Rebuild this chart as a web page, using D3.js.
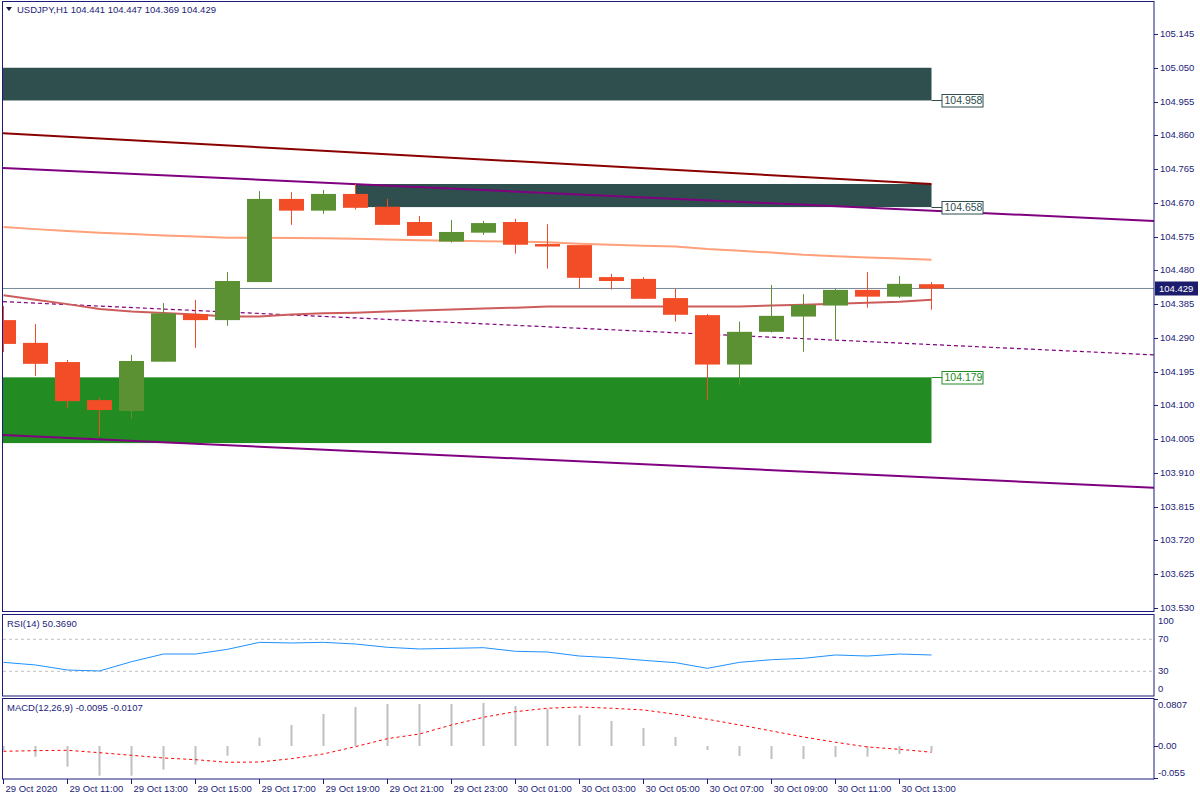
<!DOCTYPE html>
<html><head><meta charset="utf-8">
<script src="https://cdn.jsdelivr.net/npm/d3@7"></script>
<style>
body{margin:0;background:#fff}
svg{display:block}
text{font-family:"Liberation Sans",Arial,sans-serif;font-size:9.5px;fill:#1c1c78}
</style>
</head><body>
<svg id="c" width="1200" height="800"></svg>
<script>
// ---------- DATA ----------
const symbolTitle = "USDJPY,H1";
const timeLabels = ["29 Oct 2020","29 Oct 11:00","29 Oct 13:00","29 Oct 15:00","29 Oct 17:00","29 Oct 19:00","29 Oct 21:00","29 Oct 23:00","30 Oct 01:00","30 Oct 03:00","30 Oct 05:00","30 Oct 07:00","30 Oct 09:00","30 Oct 11:00","30 Oct 13:00"];
const opens  = [104.340,104.276,104.222,104.115,104.084,104.223,104.357,104.340,104.447,104.681,104.648,104.695,104.659,104.616,104.561,104.586,104.616,104.554,104.551,104.461,104.456,104.402,104.354,104.215,104.307,104.350,104.381,104.425,104.406,104.441];
const highs  = [104.380,104.329,104.228,104.121,104.242,104.388,104.397,104.475,104.703,104.700,104.706,104.723,104.681,104.633,104.622,104.619,104.625,104.610,104.551,104.470,104.461,104.428,104.357,104.336,104.439,104.413,104.428,104.475,104.464,104.447];
const lows   = [104.250,104.183,104.093,104.014,104.062,104.223,104.262,104.324,104.447,104.608,104.639,104.651,104.608,104.577,104.558,104.580,104.527,104.485,104.430,104.426,104.400,104.336,104.116,104.158,104.305,104.251,104.285,104.375,104.402,104.369];
const closes = [104.273,104.217,104.112,104.087,104.225,104.359,104.340,104.450,104.681,104.648,104.695,104.656,104.608,104.577,104.588,104.613,104.552,104.547,104.459,104.450,104.400,104.355,104.215,104.307,104.352,104.383,104.425,104.406,104.442,104.429];
const maSalmon = [104.602,104.596,104.591,104.586,104.582,104.578,104.575,104.572,104.572,104.571,104.570,104.569,104.567,104.565,104.563,104.562,104.561,104.559,104.555,104.552,104.549,104.547,104.540,104.535,104.530,104.524,104.520,104.516,104.513,104.510];
const maRed = [104.410,104.397,104.385,104.371,104.364,104.360,104.356,104.350,104.350,104.356,104.359,104.361,104.364,104.367,104.370,104.373,104.375,104.378,104.378,104.378,104.378,104.378,104.378,104.378,104.381,104.383,104.386,104.389,104.392,104.397];
const maroonLine = [104.866,104.723];      // at bar 0 and last bar
const upperChannel = [104.768,104.619];    // at bar 0 and bar 36 (right edge)
const lowerChannel = [104.017,103.868];
const dashedTrend = [104.392,104.242];
const zoneLows  = [104.958,104.658,103.994];
const zoneHighs = [105.050,104.723,104.179];
const zoneStarts = [0,11,0];
const zoneLabels = ["104.958","104.658","104.179"];
const priceTicks = [103.530,103.625,103.720,103.815,103.910,104.005,104.100,104.195,104.290,104.385,104.480,104.575,104.670,104.765,104.860,104.955,105.050,105.145];
const lastPrice = 104.429;
const rsi = [41.2,37.9,31.6,30.4,42.0,51.6,51.6,57.5,66.2,65.4,66.2,64.1,60.0,57.9,58.7,59.5,55.0,54.1,49.1,47.0,43.7,40.8,33.7,41.2,44.5,46.2,50.4,49.1,51.6,50.369];
const rsiLevels = [70,30];
const rsiTickLabels = ["100","70","30","0"];
const rsiTickValues = [100,70,30,0];
const macdMain = [-0.008,-0.0184,-0.0355,-0.051,-0.051,-0.0407,-0.032,-0.0166,0.0143,0.036,0.055,0.067,0.072,0.072,0.072,0.0739,0.0687,0.0636,0.0533,0.043,0.0309,0.0155,-0.0069,-0.0172,-0.0223,-0.0223,-0.0189,-0.0183,-0.0137,-0.0095];
const macdSignal = [-0.0091,-0.008,-0.0074,-0.0115,-0.016,-0.0206,-0.0235,-0.028,-0.0275,-0.0218,-0.0137,-0.0011,0.0126,0.0206,0.0361,0.0493,0.059,0.0648,0.067,0.0648,0.0619,0.0545,0.0459,0.0361,0.0258,0.0155,0.0064,-0.0017,-0.0057,-0.0107];
const macdTickValues = [0.0807,0.0,-0.055];
const macdTickLabels = ["0.0807","0.00","-0.055"];

// ---------- LAYOUT ----------
const N = opens.length;
const svg = d3.select("#c");
const NAVY = "#1c1c78";
const L = 3, R = 1154;
const main = {top:1.5, bottom:611.5};
const rsiP = {top:614.5, bottom:696};
const macdP = {top:698.5, bottom:779};

const x = d3.scaleLinear().domain([0, N-1]).range([3.5, 931.5]);
const y = d3.scaleLinear().domain([103.530, 105.145]).range([608, 34]);
const yr = d3.scaleLinear().domain([0,100]).range([695.3, 615.3]);
const ym = d3.scaleLinear().domain([-0.0567, 0.0807]).range([779, 699]);

const defs = svg.append("defs");
defs.append("clipPath").attr("id","clipMain").append("rect")
  .attr("x",L).attr("y",main.top).attr("width",R-L).attr("height",main.bottom-main.top);
defs.append("clipPath").attr("id","clipRsi").append("rect")
  .attr("x",L).attr("y",rsiP.top).attr("width",R-L).attr("height",rsiP.bottom-rsiP.top);
defs.append("clipPath").attr("id","clipMacd").append("rect")
  .attr("x",L).attr("y",macdP.top).attr("width",R-L).attr("height",macdP.bottom-macdP.top);

// ---------- MAIN PANEL ----------
const g = svg.append("g").attr("clip-path","url(#clipMain)");
const zoneColors = ["#2f4f4f","#2f4f4f","#228b22"];
zoneLows.forEach((lo,k)=>{
  const x0 = zoneStarts[k]===0 ? L : x(zoneStarts[k]);
  g.append("rect").attr("x",x0).attr("y",y(zoneHighs[k]))
   .attr("width",x(N-1)-x0).attr("height",y(lo)-y(zoneHighs[k]))
   .attr("fill",zoneColors[k]);
});

const line2 = (vals, i1, color, w, dash) => {
  g.append("line").attr("x1",x(0)-1).attr("x2",x(i1))
   .attr("y1",y(vals[0]) - (vals[1]-vals[0])/ (i1) * 0 ).attr("y2",y(vals[1]))
   .attr("stroke",color).attr("stroke-width",w).attr("stroke-dasharray",dash||null);
};
// extend start slightly to the left edge using the same slope
function trend(vals, i1, color, w, dash){
  const slope = (vals[1]-vals[0])/i1;
  const xs = x.invert(L);
  const v0 = vals[0] + slope*xs;
  g.append("line").attr("x1",L).attr("x2",x(i1))
   .attr("y1",y(v0)).attr("y2",y(vals[1]))
   .attr("stroke",color).attr("stroke-width",w).attr("stroke-dasharray",dash||null);
}
trend(maroonLine, N-1, "#8b0000", 2);
trend(upperChannel, 36, "#800080", 2);
trend(lowerChannel, 36, "#800080", 2);
trend(dashedTrend, 36, "#800080", 1.2, "4,3");

const lineGen = d3.line().x((d,i)=>x(i)).y(d=>y(d));
g.append("path").attr("d",lineGen(maSalmon)).attr("fill","none").attr("stroke","#ffa07a").attr("stroke-width",2);
g.append("path").attr("d",lineGen(maRed)).attr("fill","none").attr("stroke","#cd5c5c").attr("stroke-width",2);

// current price line
g.append("line").attr("x1",L).attr("x2",R).attr("y1",y(lastPrice)).attr("y2",y(lastPrice))
  .attr("stroke","#778899").attr("stroke-width",1);

// candles
const UP = "#5b9132", DOWN = "#f24d27";
const cg = g.append("g");
d3.range(N).forEach(i=>{
  const col = closes[i] >= opens[i] ? UP : DOWN;
  cg.append("line").attr("x1",x(i)).attr("x2",x(i)).attr("y1",y(highs[i])).attr("y2",y(lows[i]))
    .attr("stroke",col).attr("stroke-width",1);
  const top = y(Math.max(opens[i],closes[i])), bot = y(Math.min(opens[i],closes[i]));
  cg.append("rect").attr("x",x(i)-12.5).attr("y",top).attr("width",25)
    .attr("height",Math.max(1.5,bot-top)).attr("fill",col);
});

// zone labels
const zoneTextColors = ["#2f4f4f","#2f4f4f","#228b22"];
zoneLows.forEach((lo,k)=>{
  const lv = k===2 ? zoneHighs[k] : lo;
  const yy = Math.round(y(lv))+0.5;
  svg.append("line").attr("x1",x(N-1)).attr("x2",x(N-1)+10.5).attr("y1",yy).attr("y2",yy)
    .attr("stroke",zoneTextColors[k]).attr("stroke-width",1);
  svg.append("rect").attr("x",x(N-1)+10.5).attr("y",yy-6).attr("width",41).attr("height",12.5)
    .attr("fill","#fff").attr("stroke",zoneTextColors[k]).attr("stroke-width",1);
  svg.append("text").attr("x",x(N-1)+13).attr("y",yy+0.5).attr("dominant-baseline","middle")
    .style("fill",zoneTextColors[k]).style("font-size","10.5px").text(zoneLabels[k]);
});

// header
svg.append("path").attr("d","M6,7 L12,7 L9,11 Z").attr("fill","#1a1a40");
svg.append("text").attr("x",17).attr("y",10.5).attr("dominant-baseline","middle")
  .text(symbolTitle + "  " + [opens[N-1],highs[N-1],lows[N-1],closes[N-1]].map(v=>v.toFixed(3)).join(" "));

// right price axis
priceTicks.forEach(t=>{
  const yy = Math.round(y(t))+0.5;
  svg.append("line").attr("x1",R).attr("x2",R+4).attr("y1",yy).attr("y2",yy).attr("stroke",NAVY);
  svg.append("text").attr("x",R+6).attr("y",yy).attr("dominant-baseline","middle").text(t.toFixed(3));
});
// last price label
const ly = Math.round(y(lastPrice))+0.5;
svg.append("rect").attr("x",R+1).attr("y",ly-7).attr("width",43).attr("height",14).attr("fill","#1c1c6c");
svg.append("text").attr("x",R+5).attr("y",ly+0.5).attr("dominant-baseline","middle").style("fill","#fff").text(lastPrice.toFixed(3));

// ---------- RSI PANEL ----------
const gr = svg.append("g").attr("clip-path","url(#clipRsi)");
rsiLevels.forEach(v=>{
  gr.append("line").attr("x1",L).attr("x2",R).attr("y1",yr(v)).attr("y2",yr(v))
    .attr("stroke","#c0c0c0").attr("stroke-dasharray","3,3");
});
gr.append("path").attr("d",d3.line().x((d,i)=>x(i)).y(d=>yr(d))(rsi))
  .attr("fill","none").attr("stroke","#1e90ff").attr("stroke-width",1);
svg.append("text").attr("x",7).attr("y",624).attr("dominant-baseline","middle").text("RSI(14) " + rsi[N-1].toFixed(4));
rsiTickValues.forEach((v,k)=>{
  const yy = Math.max(rsiP.top+7, Math.min(rsiP.bottom-7, yr(v)));
  svg.append("text").attr("x",R+4).attr("y",yy).attr("dominant-baseline","middle").text(rsiTickLabels[k]);
});

// ---------- MACD PANEL ----------
const gm = svg.append("g").attr("clip-path","url(#clipMacd)");
d3.range(N).forEach(i=>{
  const v = macdMain[i];
  gm.append("rect").attr("x",x(i)-1).attr("width",2)
    .attr("y",Math.min(ym(0),ym(v))).attr("height",Math.max(1,Math.abs(ym(v)-ym(0))))
    .attr("fill","#c0c0c0");
});
gm.append("path").attr("d",d3.line().x((d,i)=>x(i)).y(d=>ym(d))(macdSignal))
  .attr("fill","none").attr("stroke","#ff0000").attr("stroke-width",1).attr("stroke-dasharray","3,3");
svg.append("text").attr("x",7).attr("y",708).attr("dominant-baseline","middle")
  .text("MACD(12,26,9) " + macdMain[N-1].toFixed(4) + " " + macdSignal[N-1].toFixed(4));
macdTickValues.forEach((v,k)=>{
  const yy = Math.max(macdP.top+7, Math.min(macdP.bottom-6, ym(v)));
  svg.append("line").attr("x1",R).attr("x2",R+4).attr("y1",Math.round(ym(v))+0.5).attr("y2",Math.round(ym(v))+0.5).attr("stroke",NAVY);
  svg.append("text").attr("x",R+4).attr("y",yy).attr("dominant-baseline","middle").text(macdTickLabels[k]);
});

// ---------- FRAMES ----------
[[main.top,main.bottom],[rsiP.top,rsiP.bottom],[macdP.top,macdP.bottom]].forEach(([t,b])=>{
  svg.append("rect").attr("x",L-0.5).attr("y",t).attr("width",R-L+0.5).attr("height",b-t)
    .attr("fill","none").attr("stroke",NAVY).attr("stroke-width",1);
});

// ---------- TIME AXIS ----------
timeLabels.forEach((lab,k)=>{
  const xi = Math.round(x(k*2)-0.5)+0.5;
  svg.append("line").attr("x1",xi).attr("x2",xi).attr("y1",macdP.bottom).attr("y2",macdP.bottom+5).attr("stroke",NAVY);
  svg.append("text").attr("x",xi+2).attr("y",789).attr("dominant-baseline","middle").text(lab);
});
</script>
</body></html>
